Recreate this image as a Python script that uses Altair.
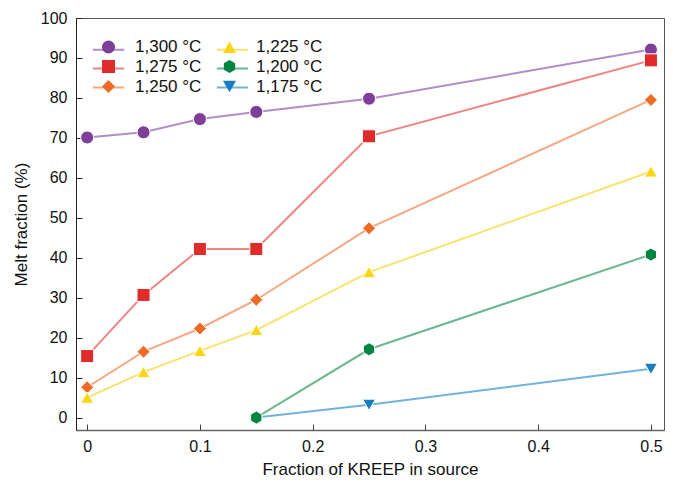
import altair as alt
import pandas as pd

FONT = "Liberation Sans"

# ---- data ----
temps = [1300, 1275, 1250, 1225, 1200, 1175]
labels = ["1,300 °C", "1,275 °C", "1,250 °C", "1,225 °C", "1,200 °C", "1,175 °C"]

x_main = [0, 0.05, 0.1, 0.15, 0.25, 0.5]
y_1300 = [70.1, 71.4, 74.7, 76.5, 79.8, 92.1]
y_1275 = [15.4, 30.7, 42.2, 42.2, 70.4, 89.4]
y_1250 = [7.6, 16.5, 22.3, 29.5, 47.4, 79.5]
y_1225 = [5.0, 11.4, 16.7, 21.9, 36.4, 61.6]
x_1200 = [0.15, 0.25, 0.5]
y_1200 = [0.0, 17.1, 40.8]
x_1175 = [0.15, 0.25, 0.5]
y_1175 = [0.0, 3.2, 12.2]

x_ticks = [0, 0.1, 0.2, 0.3, 0.4, 0.5]
y_ticks = [0, 10, 20, 30, 40, 50, 60, 70, 80, 90, 100]

marker_colors = ["#7E3F98", "#E02B2B", "#EF6A24", "#F8D515", "#00843F", "#1B7DC1"]
line_colors = ["#B48CC8", "#EE8484", "#F6A884", "#F7E36E", "#6DB88C", "#72B3DC"]
HEX = "M0,-1L0.866,-0.5L0.866,0.5L0,1L-0.866,0.5L-0.866,-0.5Z"
shapes = ["circle", "square", "diamond", "triangle-up", HEX, "triangle-down"]

series_x = [x_main, x_main, x_main, x_main, x_1200, x_1175]
series_y = [y_1300, y_1275, y_1250, y_1225, y_1200, y_1175]

rows = []
for t, lab, xs_, ys_ in zip(temps, labels, series_x, series_y):
    for xv, yv in zip(xs_, ys_):
        rows.append({"temp": t, "series": lab, "x": xv, "y": yv})
df = pd.DataFrame(rows)

xs = alt.Scale(domain=[-0.0099, 0.5116], nice=False, zero=False)
ys = alt.Scale(domain=[-3.1, 100], nice=False, zero=False)

common_leg = dict(orient="none", legendX=24, columns=2,
                  symbolSize=170, labelFont=FONT, labelFontSize=17,
                  rowPadding=1, padding=0, title=None)

# line segments drawn behind the legend markers (no visible labels)
line_legend = alt.Legend(symbolType="M-2.4,0L2.4,0", symbolStrokeWidth=2,
                         labelOffset=0, labelOpacity=0, columnPadding=83, legendY=23,
                         labelExpr="' '", zindex=0, **common_leg)
marker_legend = alt.Legend(symbolStrokeWidth=1, symbolStrokeColor="white",
                           labelOffset=18, columnPadding=18, labelColor="#111", legendY=20,
                           zindex=1, **common_leg)

ax = dict(labelFont=FONT, labelFontSize=16, titleFont=FONT, titleFontSize=17,
          titleFontWeight="normal", labelColor="#111", titleColor="#111", grid=False)

lines = alt.Chart(df).mark_line(strokeWidth=2).encode(
    x=alt.X("x:Q", scale=xs, axis=alt.Axis(orient="bottom", values=x_ticks, format="~g",
                                             ticks=False, tickSize=0, labelPadding=8,
                                             title="Fraction of KREEP in source", titlePadding=7,
                                             domainColor="#666", domainWidth=1.5, **ax)),
    y=alt.Y("y:Q", scale=ys, axis=alt.Axis(orient="left", values=y_ticks, format="d",
                                             ticks=False, tickSize=0, labelPadding=9,
                                             title="Melt fraction (%)", titlePadding=10,
                                             domainColor="#222", domainWidth=1, **ax)),
    stroke=alt.Stroke("temp:N", scale=alt.Scale(domain=temps, range=line_colors), legend=line_legend),
    order=alt.Order("x:Q"),
)

points = alt.Chart(df).transform_filter(
    "!(datum.temp == 1175 && datum.x == 0.15)"
).mark_point(filled=True, size=170, stroke="white", strokeWidth=1, opacity=1).encode(
    x=alt.X("x:Q", scale=xs, axis=alt.Axis(orient="bottom", values=x_ticks, labels=False,
                                             domain=False, ticks=True, tickSize=6, offset=-6,
                                             tickColor="#444", title=None, grid=False)),
    y=alt.Y("y:Q", scale=ys, axis=alt.Axis(orient="left", values=y_ticks, labels=False,
                                             domain=False, ticks=True, tickSize=6, offset=-6,
                                             tickColor="#222", title=None, grid=False)),
    fill=alt.Fill("series:N", scale=alt.Scale(domain=labels, range=marker_colors), legend=marker_legend),
    shape=alt.Shape("series:N", scale=alt.Scale(domain=labels, range=shapes), legend=marker_legend),
)

chart = alt.layer(lines, points).resolve_axis(x="independent", y="independent").properties(
    width=588, height=412,
    autosize=alt.AutoSizeParams(type="none"),
    padding={"left": 68, "top": 10, "right": 1, "bottom": 48},
).configure_view(stroke="#555", strokeWidth=1)

chart.save("out.html", embed_options={"renderer": "svg", "actions": False})
